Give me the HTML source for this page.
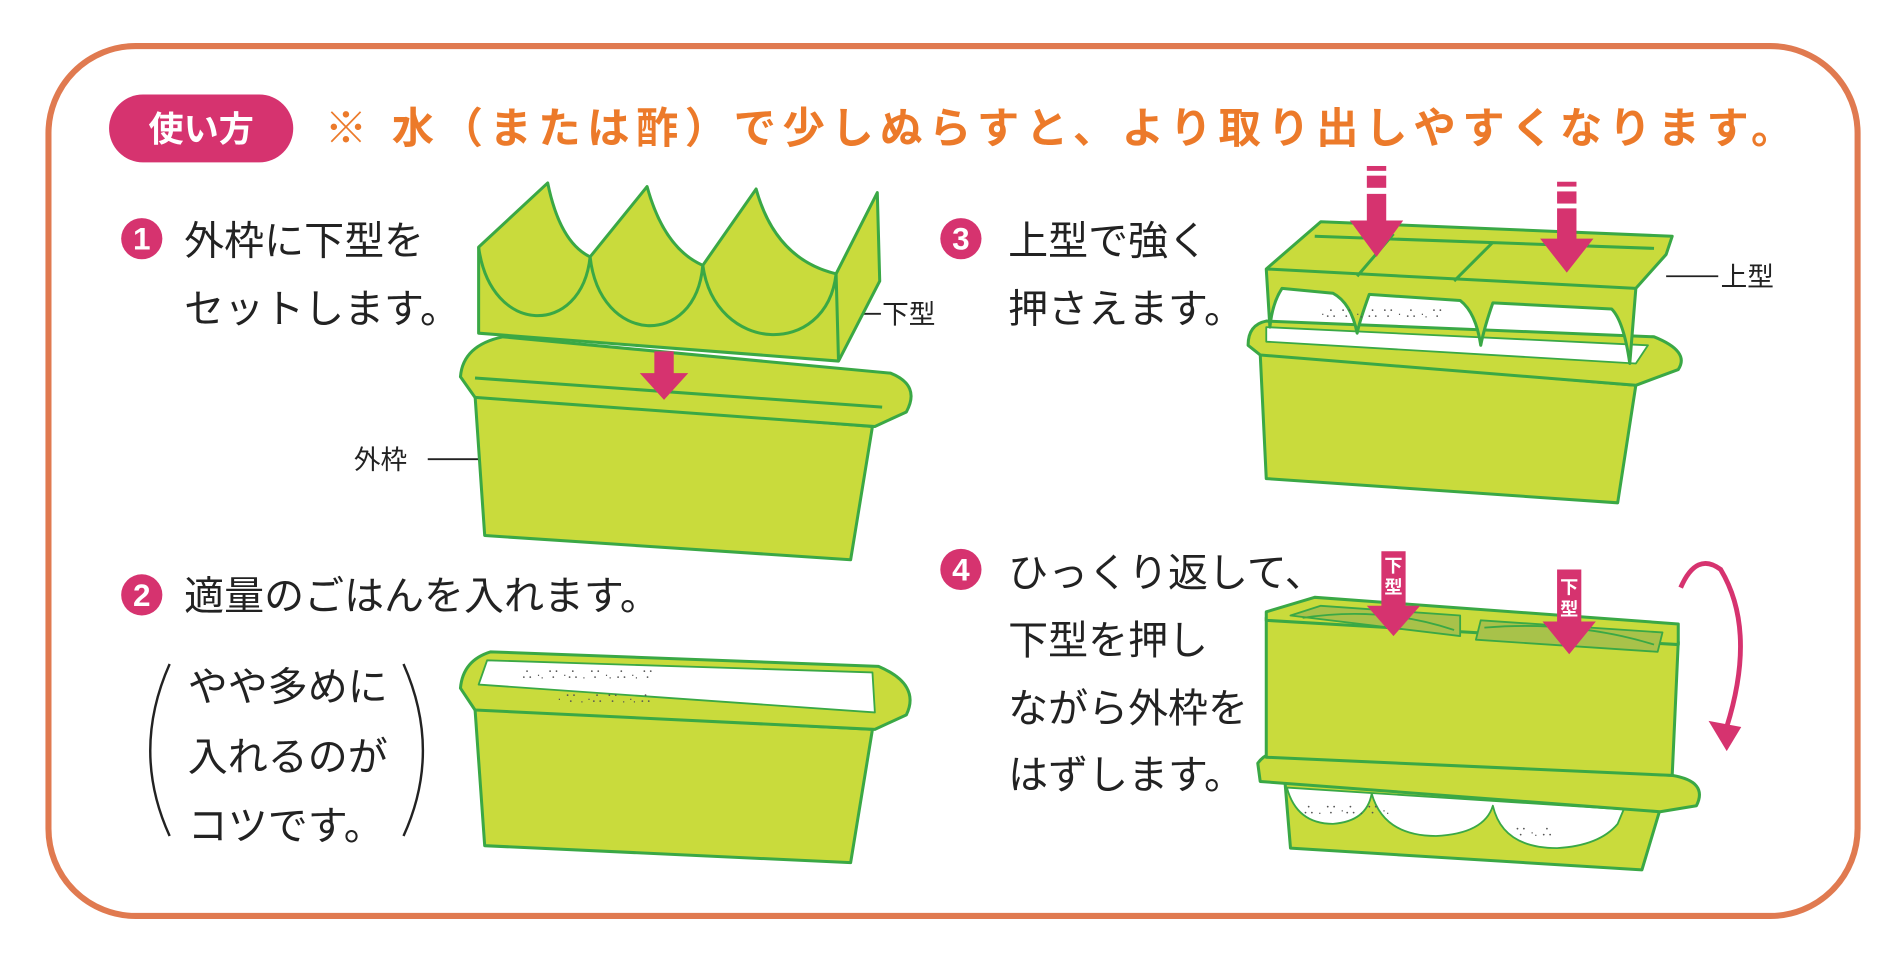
<!DOCTYPE html>
<html><head><meta charset="utf-8"><style>
html,body{margin:0;padding:0;background:#fff;}
svg{display:block}
text{font-family:"Liberation Sans","Noto Sans CJK JP",sans-serif;}
</style></head><body>
<svg width="1900" height="962" viewBox="0 0 1568 794" preserveAspectRatio="none" xmlns="http://www.w3.org/2000/svg">
<rect x="40" y="38" width="1493" height="718" rx="72" fill="#fff" stroke="#e07a50" stroke-width="5"/>
<!-- header -->
<rect x="90" y="78" width="152" height="56" rx="28" fill="#d6336f"/>
<text x="166" y="117" font-size="29" font-weight="bold" fill="#fff" text-anchor="middle">使い方</text>
<text x="268" y="118" font-size="35" font-weight="bold" fill="#ec7a2a" textLength="1212">※ 水（または酢）で少しぬらすと、より取り出しやすくなります。</text>
<!-- step numbers -->
<g fill="#d6336f"><circle cx="117" cy="197" r="17"/><circle cx="117" cy="491" r="17"/><circle cx="793" cy="197" r="17"/><circle cx="793" cy="470" r="17"/></g>
<g fill="#fff" font-size="26" font-weight="bold" text-anchor="middle"><text x="117" y="206">1</text><text x="117" y="500">2</text><text x="793" y="206">3</text><text x="793" y="479">4</text></g>
<g fill="#222" font-size="33">
<text x="152" y="210">外枠に下型を</text>
<text x="152" y="266">セットします。</text>
<text x="152" y="503">適量のごはんを入れます。</text>
<text x="155" y="578">やや多めに</text>
<text x="155" y="636">入れるのが</text>
<text x="155" y="693">コツです。</text>
<text x="832" y="210">上型で強く</text>
<text x="832" y="266">押さえます。</text>
<text x="832" y="484">ひっくり返して、</text>
<text x="832" y="540">下型を押し</text>
<text x="832" y="596">ながら外枠を</text>
<text x="832" y="651">はずします。</text>
</g>
<path d="M140,548 Q108,620 140,690" fill="none" stroke="#222" stroke-width="2"/>
<path d="M333,548 Q365,620 333,690" fill="none" stroke="#222" stroke-width="2"/>
<g fill="#222" font-size="22">
<text x="728" y="267">下型</text><text x="292" y="387">外枠</text><text x="1420" y="236">上型</text></g>
<g stroke="#222" stroke-width="1.5"><line x1="700" y1="259" x2="727" y2="259"/><line x1="353" y1="379" x2="412" y2="379"/><line x1="1375" y1="228" x2="1418" y2="228"/></g>

<g stroke="#3aa845" stroke-width="2.5" fill="#c9db3c" stroke-linejoin="round">
<!-- box1 -->
<path d="M392,326 L720,352 L702,462 L400,442 Z"/>
<path d="M380,311 Q382,285 415,278 L735,308 Q760,318 748,340 L722,352 L392,328 Z"/>
<path d="M392,312 L728,336" fill="none"/>
<!-- crown -->
<path d="M395,275 L395,204 L452,151 Q462,200 487,212 L534,154 Q548,205 580,219 L624,156 Q640,214 690,226 L724,159 L726,232 L692,298 Z"/>
<path d="M395,204 C405,278 480,278 487,212 M487,212 C495,285 574,288 580,219 M580,219 C590,292 682,296 690,226 M690,226 L692,298" fill="none"/>
<!-- box2 -->
<path d="M392,585 L720,602 L702,712 L400,698 Z"/>
<path d="M380,568 Q382,545 405,538 L725,550 Q760,565 748,590 L722,602 L392,586 Z"/>
<path d="M395,565 L402,545 L720,555 L722,588 Z" fill="#fff" stroke-width="1.5"/>
<!-- box3 -->
<path d="M1040,292 L1350,318 L1335,415 L1045,395 Z"/>
<path d="M1030,285 Q1030,268 1045,265 L1365,278 Q1395,290 1385,305 L1350,318 L1040,293 Z"/>
<path d="M1045,270 L1360,285 L1350,300 L1045,282 Z" fill="#fff" stroke-width="1.5"/>
<path d="M1045,222 L1090,183 L1380,195 L1375,210 L1350,238 L1345,300 Q1340,265 1330,255 L1232,250 Q1225,270 1222,285 Q1218,258 1205,248 L1130,243 Q1122,265 1120,275 Q1115,250 1100,242 L1058,238 Q1050,250 1048,270 Z"/>
<path d="M1045,222 L1350,238 M1085,195 L1365,205 M1120,228 L1150,193 M1200,232 L1232,200" fill="none"/>
<!-- box4 -->
<path d="M1060,640 L1370,668 L1355,718 L1065,700 Z"/>
<path d="M1062,650 Q1070,680 1100,680 Q1128,678 1132,655 Q1142,690 1185,690 Q1225,688 1232,665 Q1240,700 1285,700 Q1320,698 1335,680 L1340,668 Z" fill="#fff" stroke-width="1.5"/>
<path d="M1038,630 Q1045,620 1060,620 L1380,640 Q1410,645 1400,665 L1370,670 L1040,645 Z"/>
<path d="M1045,510 L1045,625 L1380,640 L1385,530 Z"/>
<path d="M1045,505 L1085,493 L1385,515 L1385,532 L1045,512 Z"/>
<path d="M1065,508 L1090,500 L1205,508 L1205,525 Z M1222,512 L1372,522 L1368,538 L1218,528 Z" fill="#a8c24a" stroke-width="1.5"/>
<path d="M1075,510 Q1140,500 1200,520 M1225,518 Q1300,512 1365,532" fill="none" stroke-width="1.5"/>
</g>
<!-- rice dots -->
<g fill="#555" font-size="10"><text x="430" y="560">∴ ·. ∵ ·∴ . ∵ ·. ∴ ·. ∵</text><text x="460" y="580">· ∵ . ·∴ ∵ . ·. ∴</text>
<text x="1090" y="262">·∴ ∵ ·. ∴ ∵ · ∴ ·. ∵</text><text x="1075" y="672">∴ . ∵  ·∴ .  ∵ ·.</text><text x="1250" y="690">∵ ·. ∴</text></g>
<!-- magenta arrows -->
<g fill="#d6336f">
<path d="M540,290 L556,290 L556,308 L568,308 L548,330 L528,308 L540,308 Z"/>
<rect x="1128" y="137" width="16" height="4"/><rect x="1128" y="145" width="16" height="10"/>
<path d="M1128,160 L1144,160 L1144,182 L1158,182 L1136,212 L1114,182 L1128,182 Z"/>
<rect x="1285" y="150" width="16" height="4"/><rect x="1285" y="158" width="16" height="10"/>
<path d="M1285,172 L1301,172 L1301,197 L1315,197 L1293,225 L1271,197 L1285,197 Z"/>
<path d="M1140,455 L1160,455 L1160,500 L1172,500 L1150,525 L1128,500 L1140,500 Z"/>
<path d="M1285,470 L1305,470 L1305,513 L1317,513 L1295,540 L1273,513 L1285,513 Z"/>
<path d="M1387,485 Q1400,455 1420,470 Q1450,520 1425,600" fill="none" stroke="#d6336f" stroke-width="4"/>
<path d="M1410,595 L1437,600 L1425,620 Z"/>
</g>
<g fill="#fff" font-size="15" font-weight="bold" text-anchor="middle"><text x="1150" y="472">下</text><text x="1150" y="490">型</text><text x="1295" y="490">下</text><text x="1295" y="508">型</text></g>
</svg>
</body></html>
